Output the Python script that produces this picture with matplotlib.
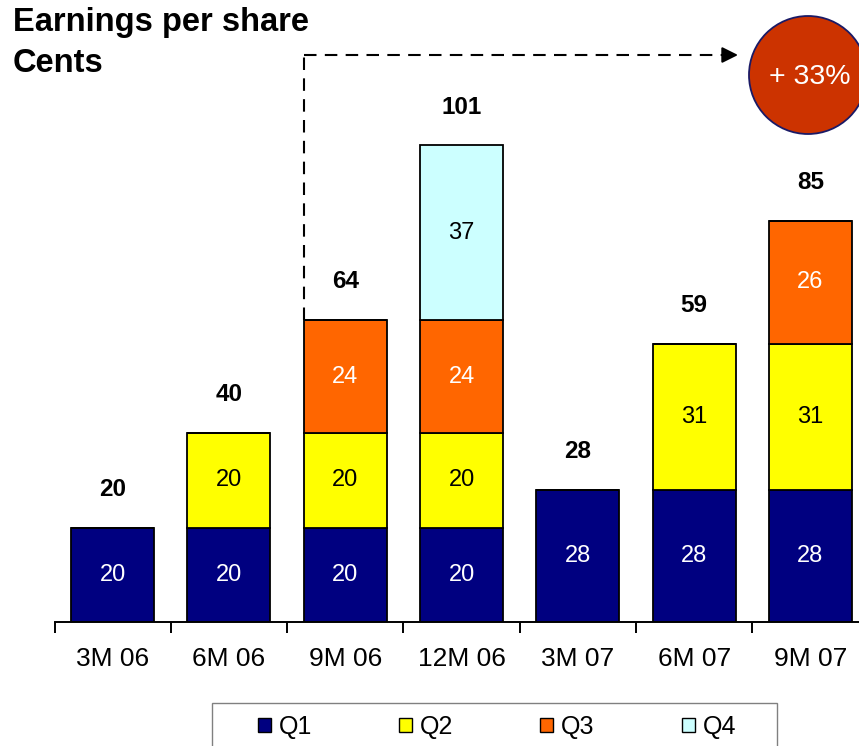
import numpy as np
import matplotlib.pyplot as plt
from matplotlib.patches import Ellipse, Rectangle, Patch

periods = ["3M 06", "6M 06", "9M 06", "12M 06", "3M 07", "6M 07", "9M 07"]
q1 = [20, 20, 20, 20, 28, 28, 28]
q2 = [0, 20, 20, 20, 0, 31, 31]
q3 = [0, 0, 24, 24, 0, 0, 26]
q4 = [0, 0, 0, 37, 0, 0, 0]
totals = [20, 40, 64, 101, 28, 59, 85]
series_names = ["Q1", "Q2", "Q3", "Q4"]
series_colors = ["#000080", "#FFFF00", "#FF6600", "#CCFFFF"]
label_colors = ["white", "black", "white", "black"]
growth_label = "+ 33%"

plt.rcParams["font.family"] = ["Liberation Sans", "DejaVu Sans"]

W, H = 859, 746
BASE = 622          # baseline in pixels from top
PX_PER_UNIT = 4.72  # vertical scale
CAT_PX = 116.3      # width of one category in pixels
LEFT = 54.5

fig = plt.figure(figsize=(W / 100, H / 100), dpi=100)
# the last category runs past the right edge of the figure
ax = fig.add_axes([LEFT / W, (H - BASE) / H, 7 * CAT_PX / W, BASE / H])


def px_x(px):
    return (px - LEFT) / CAT_PX - 0.5


def px_y(py):
    return (BASE - py) / PX_PER_UNIT


x = np.arange(len(periods))
width = 83 / CAT_PX
bottom = np.zeros(len(periods))
for vals, name, col, lcol in zip([q1, q2, q3, q4], series_names, series_colors, label_colors):
    vals = np.array(vals, dtype=float)
    ax.bar(x, vals, width, bottom=bottom, color=col, edgecolor="black",
           linewidth=1.3, label=name, zorder=2)
    for xi, b, v in zip(x, bottom, vals):
        if v > 0:
            ax.text(xi, b + v / 2, f"{int(v)}", ha="center", va="center",
                    color=lcol, fontsize=17)
    bottom += vals

for xi, t in zip(x, totals):
    ax.text(xi, t + 8.1, str(t), ha="center", va="center", fontsize=17.5,
            fontweight="bold")

ax.set_xlim(-0.5, len(periods) - 0.5)
ax.set_ylim(0, BASE / PX_PER_UNIT)
for s in ["top", "right", "left"]:
    ax.spines[s].set_visible(False)
ax.spines["bottom"].set_linewidth(1.4)
ax.set_yticks([])
ax.set_xticks(np.arange(len(periods) + 1) - 0.5)
ax.set_xticklabels([])
ax.set_xticks(x, minor=True)
ax.set_xticklabels(periods, minor=True, fontsize=19)
ax.tick_params(axis="x", which="major", length=8, width=1.4, direction="out")
ax.tick_params(axis="x", which="minor", length=0, pad=18)

# dashed growth arrow from the 9M 06 bar to the circle
x0 = 2 - width / 2
y_top = px_y(55)
dash = (0, (6, 4))
ax.plot([x0, x0], [totals[2], y_top], color="black", lw=1.5, ls=dash,
        clip_on=False, zorder=3)
ax.plot([x0, px_x(725)], [y_top, y_top], color="black", lw=1.5, ls=dash,
        clip_on=False, zorder=3)
ax.annotate("", xy=(px_x(738), y_top), xytext=(px_x(722), y_top),
            arrowprops=dict(arrowstyle="-|>", color="black", lw=1.5,
                            mutation_scale=24, shrinkA=0, shrinkB=0),
            annotation_clip=False)

circ = Ellipse((px_x(808), px_y(75)), 118 / CAT_PX, 118 / PX_PER_UNIT,
               facecolor="#CC3300", edgecolor="#1A1A66", lw=1.3,
               clip_on=False, zorder=4)
ax.add_patch(circ)
ax.text(px_x(810), px_y(77), growth_label, ha="center", va="center",
        color="white", fontsize=20.5, zorder=5)

fig.text(13 / W, 1 - 23 / H, "Earnings per share", fontsize=23.5,
         fontweight="bold", va="center", ha="left")
fig.text(13 / W, 1 - 64 / H, "Cents", fontsize=23.5, fontweight="bold",
         va="center", ha="left")

# legend box, its bottom edge runs off the figure
fig.patches.append(Rectangle((212 / W, -20 / H), (777 - 212) / W, (H - 703 + 20) / H,
                             transform=fig.transFigure, facecolor="white",
                             edgecolor="#808080", lw=1))
handles = [Patch(facecolor=c, edgecolor="black", lw=1) for c in series_colors]
fig.legend(handles, series_names, loc="center", ncol=4,
           bbox_to_anchor=(497 / W, 1 - 727 / H), frameon=False, fontsize=18,
           handlelength=0.52, handleheight=0.52, handletextpad=0.32,
           columnspacing=3.48)

fig.savefig("out.png", dpi=100)
